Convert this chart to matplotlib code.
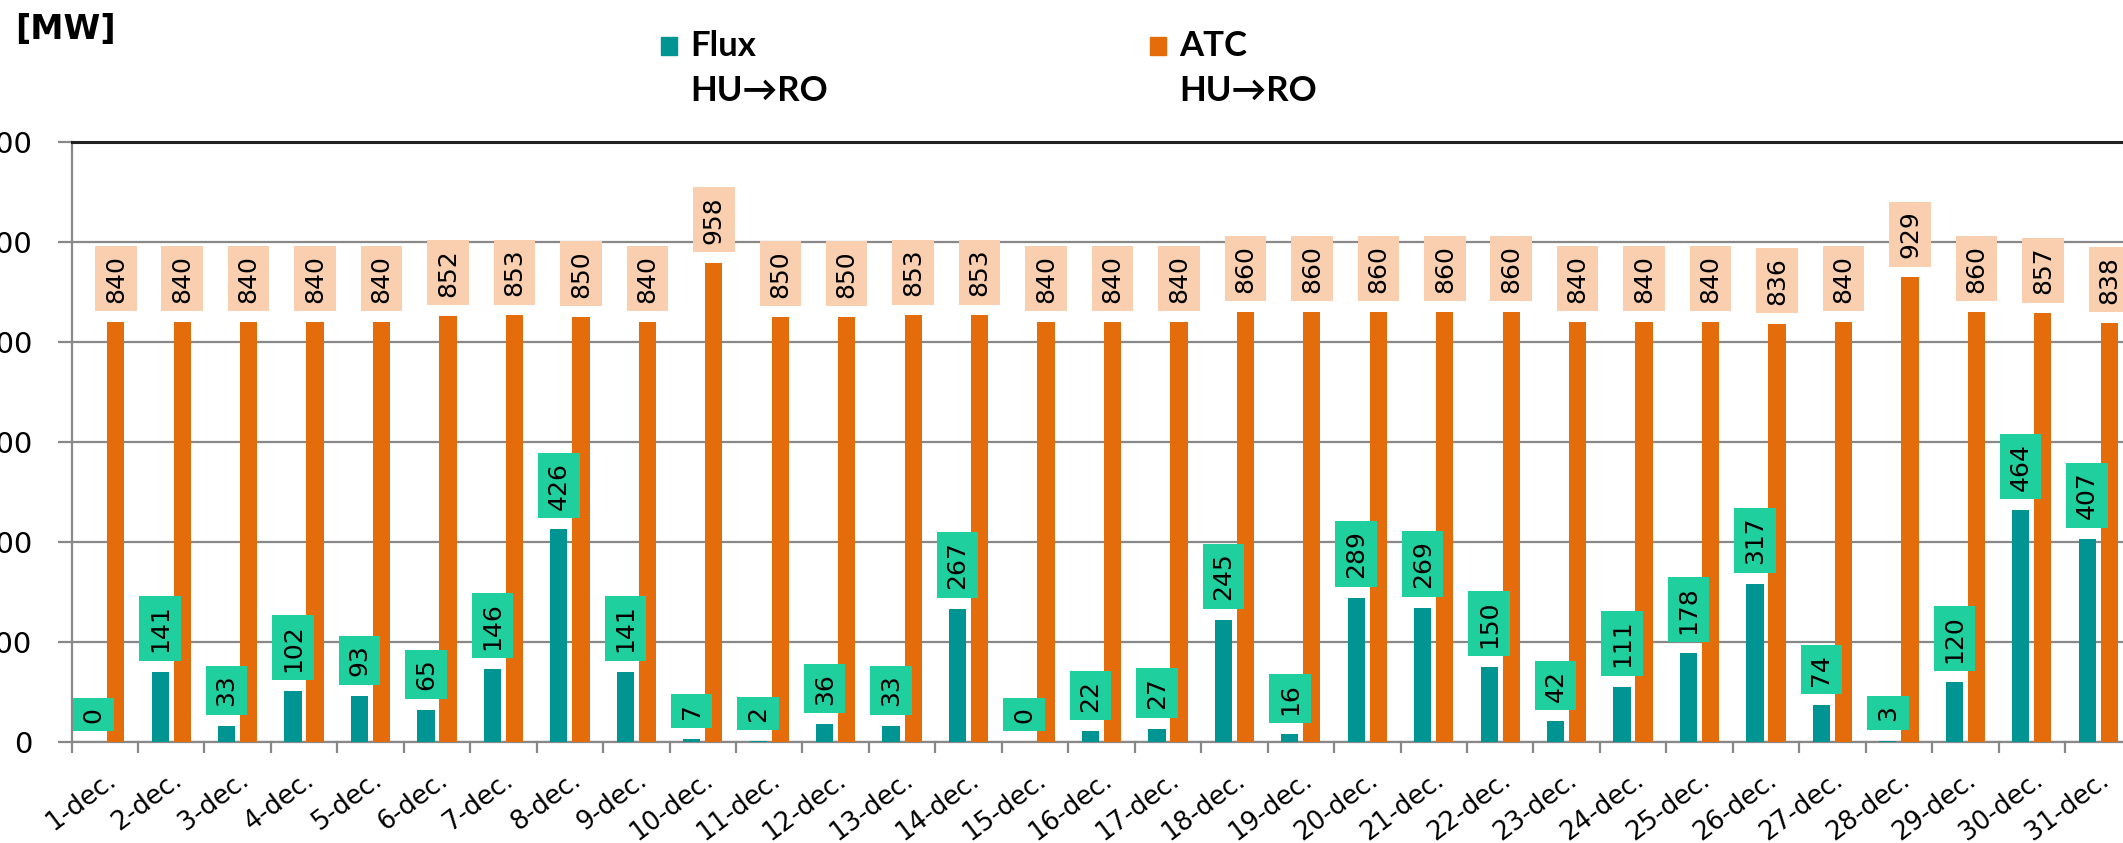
import matplotlib
matplotlib.use("Agg")
import matplotlib.pyplot as plt
from matplotlib.patches import Rectangle
import numpy as np

# date categories
days = [f"{d}-dec." for d in range(1, 32)]

# flux HU->RO [MW]
flux = [0, 141, 33, 102, 93, 65, 146, 426, 141, 7, 2, 36, 33, 267, 0, 22,
        27, 245, 16, 289, 269, 150, 42, 111, 178, 317, 74, 3, 120, 464, 407]

# ATC HU->RO [MW]
atc = [840, 840, 840, 840, 840, 852, 853, 850, 840, 958, 850, 850, 853, 853,
       840, 840, 840, 860, 860, 860, 860, 860, 840, 840, 840, 836, 840, 929,
       860, 857, 838]

teal = '#009492'
orange = '#E46C0A'
green_box = '#1FCF9E'
peach_box = '#F9CFAF'
grid_col = '#888888'

W, H = 2123, 843
fig = plt.figure(figsize=(W / 100, H / 100), dpi=100)
# plot area is cut by the right edge in the original picture
ax = fig.add_axes([71.5 / W, (H - 742) / H, (31 * 66.45) / W, 600 / H])

x = np.arange(len(days))
off = 0.166
bw = 0.26
ax.bar(x - off, flux, width=bw, color=teal, zorder=3)
ax.bar(x + off, atc, width=bw, color=orange, zorder=3)

# data labels, rotated, in coloured boxes
for xi, v in zip(x, flux):
    ax.annotate(str(v), (xi - off, v), xytext=(0, 14), textcoords='offset points',
                rotation=90, ha='center', va='bottom', fontsize=18, zorder=5,
                bbox=dict(boxstyle='square,pad=0.35', fc=green_box, ec='none'))
for xi, v in zip(x, atc):
    ax.annotate(str(v), (xi + off, v), xytext=(0, 14), textcoords='offset points',
                rotation=90, ha='center', va='bottom', fontsize=18, zorder=5,
                bbox=dict(boxstyle='square,pad=0.35', fc=peach_box, ec='none'))

ax.set_xlim(-0.5, len(days) - 0.5)
ax.set_ylim(0, 1200)
ax.set_yticks(np.arange(0, 1201, 200))
ax.yaxis.grid(True, color=grid_col, lw=1.6, zorder=0)
ax.set_axisbelow(True)
ax.tick_params(axis='y', length=10, width=1.6, color=grid_col, pad=18, labelsize=21)

# category boundaries as ticks, names at centres
ax.set_xticks(np.arange(-0.5, len(days), 1))
ax.set_xticklabels([])
ax.set_xticks(x, minor=True)
ax.set_xticklabels(days, minor=True, rotation=37, ha='right', rotation_mode='anchor',
                   fontsize=18.5)
ax.tick_params(axis='x', which='major', length=8, width=1.6, color=grid_col)
ax.tick_params(axis='x', which='minor', length=0, pad=18)

for s in ['left', 'bottom']:
    ax.spines[s].set_color(grid_col)
    ax.spines[s].set_linewidth(1.6)
ax.spines['top'].set_color('#222222')
ax.spines['top'].set_linewidth(2.2)
ax.spines['right'].set_visible(False)

# unit label
fig.text(15 / W, 1 - 29 / H, '[MW]', fontsize=24, fontweight='bold', va='center')

# legend
leg_font = ['Lato', 'DejaVu Sans']
for sx, name, col in [(661, 'Flux', teal), (1150, 'ATC', orange)]:
    fig.patches.append(Rectangle((sx / W, 1 - 55 / H), 16 / W, 18 / H,
                                 transform=fig.transFigure, color=col))
    fig.text((sx + 29) / W, 1 - 46 / H, name, fontsize=25, fontweight='bold',
             family=leg_font, va='center')
    fig.text((sx + 29) / W, 1 - 91 / H, 'HU→RO', fontsize=25, fontweight='bold',
             family=leg_font, va='center')

fig.savefig('out.png', dpi=100)
